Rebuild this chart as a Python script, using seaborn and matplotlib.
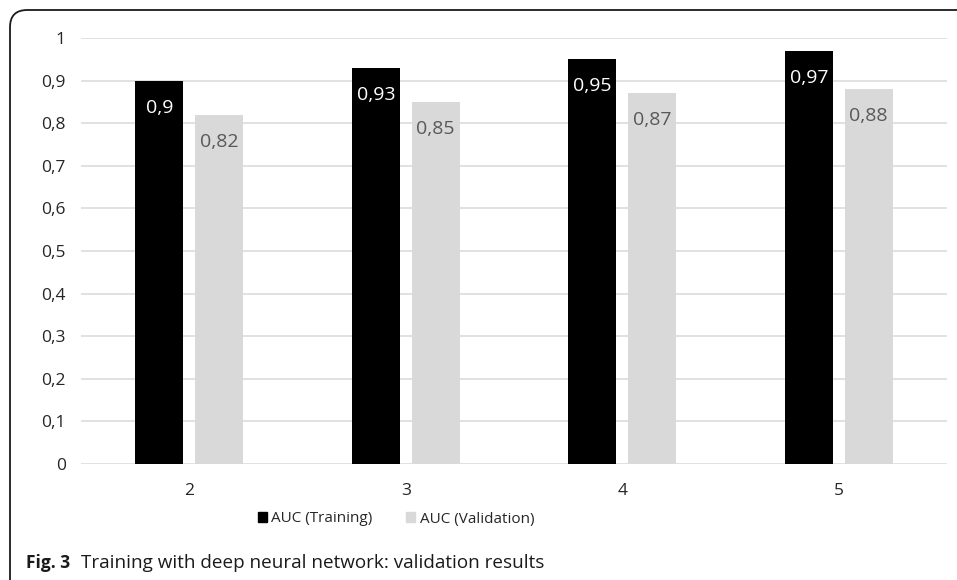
import matplotlib
matplotlib.use("Agg")
import matplotlib.pyplot as plt
from matplotlib.patches import FancyBboxPatch
import seaborn as sns
import pandas as pd

# Number of hidden layers vs. AUC
layers = ["2", "3", "4", "5"]
auc_training = [0.90, 0.93, 0.95, 0.97]
auc_validation = [0.82, 0.85, 0.87, 0.88]
series_names = ["AUC (Training)", "AUC (Validation)"]
y_ticks = [0, 0.1, 0.2, 0.3, 0.4, 0.5, 0.6, 0.7, 0.8, 0.9, 1.0]

df = pd.DataFrame({
    "layers": layers * 2,
    "auc": auc_training + auc_validation,
    "series": [series_names[0]] * len(layers) + [series_names[1]] * len(layers),
})

sns.set_theme(style="white")
plt.rcParams["font.family"] = ["Open Sans", "DejaVu Sans"]

W, H = 957, 580
fig = plt.figure(figsize=(W / 100, H / 100), dpi=100)
ax = fig.add_axes([81 / W, 1 - 464 / H, 866 / W, (464 - 38) / H])

palette = {series_names[0]: "#000000", series_names[1]: "#d9d9d9"}
sns.barplot(data=df, x="layers", y="auc", hue="series", order=layers,
            hue_order=series_names, palette=palette, width=0.552, gap=0.2,
            saturation=1, legend=False, ax=ax, zorder=3, linewidth=0)

ax.set_ylim(0, 1)
ax.set_xlim(-0.5, len(layers) - 0.5)
ax.set_yticks(y_ticks)
ax.set_yticklabels([("%g" % t).replace(".", ",") for t in y_ticks])
ax.yaxis.grid(True, color="#d9d9d9", linewidth=1.1, zorder=0)
ax.xaxis.grid(False)
for s in ax.spines.values():
    s.set_visible(False)
ax.tick_params(axis="both", length=0, labelsize=12.5, labelcolor="#262626")
ax.tick_params(axis="y", pad=11)
ax.tick_params(axis="x", pad=14)
ax.set_xlabel("")
ax.set_ylabel("")

# value labels inside the top of each bar
text_colors = ["white", "#595959"]
for cont, tc in zip(ax.containers, text_colors):
    for bar in cont:
        v = bar.get_height()
        ax.annotate(("%g" % v).replace(".", ","),
                    (bar.get_x() + bar.get_width() / 2, v),
                    xytext=(0, -19.5), textcoords="offset points",
                    ha="center", va="center", fontsize=14, color=tc, zorder=5)

# legend below the axes
handles = [plt.Rectangle((0, 0), 1, 1, color=palette[n]) for n in series_names]
fig.legend(handles, series_names, loc="center", ncol=2,
           bbox_to_anchor=(396 / W, 1 - 519 / H), frameon=False,
           fontsize=11, handlelength=0.6, handleheight=0.6,
           handletextpad=0.3, columnspacing=2.2, labelcolor="#262626")

# caption
fig.text(26 / W, 1 - 563 / H, "Fig. 3", fontsize=12.5, fontweight="bold",
         color="#1a1a1a", va="center", ha="left")
fig.text(81 / W, 1 - 563 / H, "Training with deep neural network: validation results",
         fontsize=13.6, color="#1a1a1a", va="center", ha="left")

# rounded frame around the figure
frame = FancyBboxPatch((10 / W, -0.2), 1.2, (1 - 10 / H) + 0.2,
                       boxstyle="round,pad=0,rounding_size=0.018",
                       transform=fig.transFigure, fill=False,
                       edgecolor="#1a1a1a", linewidth=1.3, mutation_aspect=W / H)
fig.patches.append(frame)

fig.savefig("out.png", dpi=100)
